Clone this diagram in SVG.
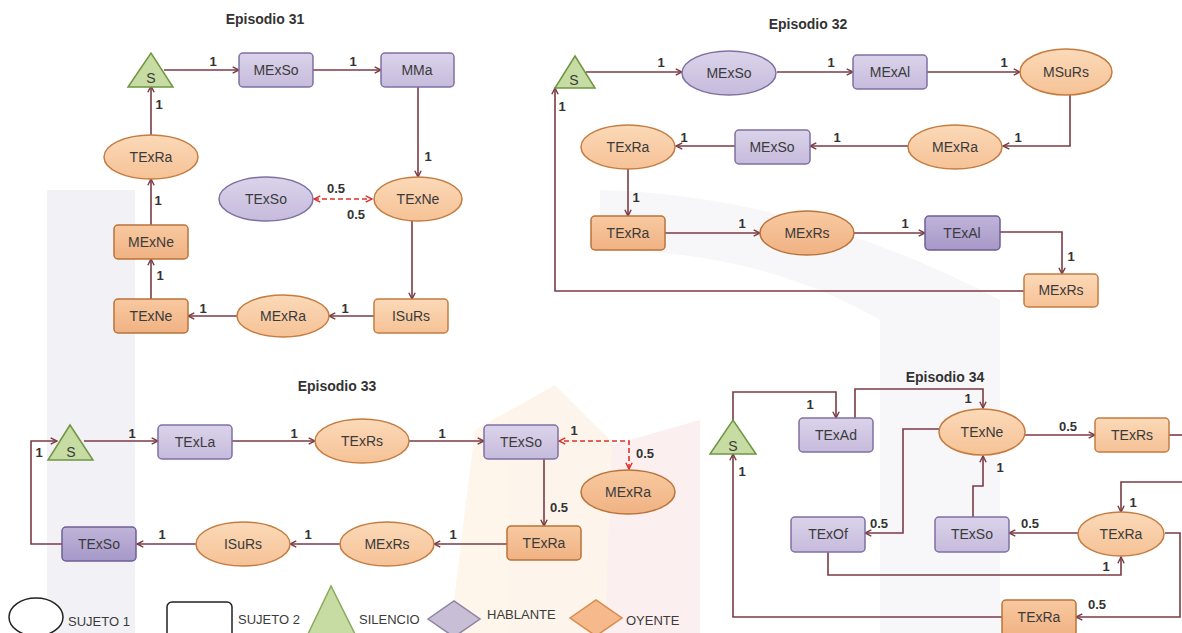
<svg xmlns="http://www.w3.org/2000/svg" width="1182" height="633" viewBox="0 0 1182 633">
<style>
.t{font-family:"Liberation Sans",Arial,sans-serif;font-size:14px;fill:#3b3b3b;text-anchor:middle;dominant-baseline:central}
.l{font-family:"Liberation Sans",Arial,sans-serif;font-size:13px;font-weight:bold;fill:#333;text-anchor:middle;dominant-baseline:central}
.h{font-family:"Liberation Sans",Arial,sans-serif;font-size:14px;font-weight:bold;fill:#333;text-anchor:middle;dominant-baseline:central}
.g{font-family:"Liberation Sans",Arial,sans-serif;font-size:13px;fill:#3b3b3b;dominant-baseline:central}
.e{fill:none;stroke:#7a3b44;stroke-width:1.6;marker-end:url(#ah)}
.n{fill:none;stroke:#7a3b44;stroke-width:1.6}
.d{fill:none;stroke:#e0302a;stroke-width:1.6;stroke-dasharray:5 3;marker-end:url(#ar);marker-start:url(#ar)}
.po{fill:url(#go);stroke:#c47c40;stroke-width:1.5}
.pk{fill:url(#gk);stroke:#b9733a;stroke-width:1.5}
.pp{fill:url(#gp);stroke:#7f70a2;stroke-width:1.5}
.pq{fill:url(#gq);stroke:#6e5f95;stroke-width:1.5}
.ps{fill:#c6dca3;stroke:#6f9542;stroke-width:1.5}
</style>
<defs>
<linearGradient id="go" x1="0" y1="0" x2="0" y2="1"><stop offset="0" stop-color="#fbd9b8"/><stop offset="1" stop-color="#f6c296"/></linearGradient>
<linearGradient id="gk" x1="0" y1="0" x2="0" y2="1"><stop offset="0" stop-color="#f8c9a0"/><stop offset="1" stop-color="#f0b283"/></linearGradient>
<linearGradient id="gp" x1="0" y1="0" x2="0" y2="1"><stop offset="0" stop-color="#dbd3ea"/><stop offset="1" stop-color="#c6bbdc"/></linearGradient>
<linearGradient id="gq" x1="0" y1="0" x2="0" y2="1"><stop offset="0" stop-color="#c0b4d9"/><stop offset="1" stop-color="#a698c8"/></linearGradient>
<marker id="ah" viewBox="0 0 10 10" refX="9" refY="5" markerWidth="9" markerHeight="9" orient="auto-start-reverse" markerUnits="userSpaceOnUse"><path d="M2,1.5 L9,5 L2,8.5" fill="none" stroke="#7a3b44" stroke-width="1.6"/></marker>
<marker id="ar" viewBox="0 0 10 10" refX="9" refY="5" markerWidth="9" markerHeight="9" orient="auto-start-reverse" markerUnits="userSpaceOnUse"><path d="M2,1.5 L9,5 L2,8.5" fill="none" stroke="#e0302a" stroke-width="1.6"/></marker>
</defs>
<rect width="1182" height="633" fill="#ffffff"/>
<g id="watermark" opacity="0.5">
<rect x="47" y="190" width="88" height="443" fill="#e6e6ee"/>
<path d="M450,633 L475,430 L555,385 L640,470 L650,633 Z" fill="#fdebd8"/>
<path d="M605,633 L612,445 L700,420 L700,633 Z" fill="#fae0e0"/>
<path d="M600,190 Q800,195 1000,300 L1000,633 L880,633 L880,320 Q760,250 600,250 Z" fill="#f0f0f4"/>
</g>
<g id="titles">
<text class="h" x="265" y="19">Episodio 31</text>
<text class="h" x="808" y="24">Episodio 32</text>
<text class="h" x="337" y="386">Episodio 33</text>
<text class="h" x="945" y="377">Episodio 34</text>
</g>
<g id="connectors">
<path class="e" d="M164,70 H239"/><text class="l" x="213" y="61">1</text>
<path class="e" d="M313,70 H381"/><text class="l" x="353" y="61">1</text>
<path class="e" d="M418,87 V177"/><text class="l" x="428" y="156">1</text>
<path class="d" d="M314,199 H372"/><text class="l" x="336" y="188">0.5</text><text class="l" x="356" y="214">0.5</text>
<path class="e" d="M412,221 V299"/>
<path class="e" d="M374,316 H329"/><text class="l" x="345" y="308">1</text>
<path class="e" d="M237,316 H188"/><text class="l" x="203" y="308">1</text>
<path class="e" d="M151,299 V259"/><text class="l" x="160" y="275">1</text>
<path class="e" d="M151,225 V179"/><text class="l" x="158" y="200">1</text>
<path class="e" d="M151,135 V86"/><text class="l" x="159" y="104">1</text>
<path class="e" d="M586,72 H682"/><text class="l" x="661" y="62">1</text>
<path class="e" d="M777,72 H853"/><text class="l" x="831" y="62">1</text>
<path class="e" d="M927,72 H1020"/><text class="l" x="1004" y="62">1</text>
<path class="e" d="M1070,95 V146 H1003"/><text class="l" x="1018" y="137">1</text>
<path class="e" d="M908,146 H810"/><text class="l" x="837" y="137">1</text>
<path class="e" d="M735,146 H676"/><text class="l" x="684" y="137">1</text>
<path class="e" d="M628,168 V216"/><text class="l" x="636" y="197">1</text>
<path class="e" d="M665,233 H760"/><text class="l" x="742" y="223">1</text>
<path class="e" d="M854,233 H925"/><text class="l" x="905" y="223">1</text>
<path class="e" d="M1000,232 H1062 V274"/><text class="l" x="1071" y="256">1</text>
<path class="e" d="M1024,291 H555 V88"/><text class="l" x="562" y="106">1</text>
<path class="e" d="M84,441 H158"/><text class="l" x="132" y="433">1</text>
<path class="e" d="M232,441 H315"/><text class="l" x="294" y="433">1</text>
<path class="e" d="M409,441 H484"/><text class="l" x="442" y="433">1</text>
<path class="d" d="M629,469 V441 H559"/><text class="l" x="574" y="430">1</text><text class="l" x="645" y="453">0.5</text>
<path class="e" d="M544,459 V526"/><text class="l" x="559" y="507">0.5</text>
<path class="e" d="M507,544 H434"/><text class="l" x="453" y="534">1</text>
<path class="e" d="M340,544 H290"/><text class="l" x="308" y="534">1</text>
<path class="e" d="M196,544 H137"/><text class="l" x="162" y="534">1</text>
<path class="e" d="M62,544 H31 V441 H57"/><text class="l" x="39" y="452">1</text>
<path class="e" d="M733,420 V392 H836 V418"/><text class="l" x="810" y="404">1</text>
<path class="e" d="M855,418 V389 H983 V408"/><text class="l" x="968" y="398">1</text>
<path class="e" d="M1025,435 H1095"/><text class="l" x="1068" y="426">0.5</text>
<path class="n" d="M1169,435 H1182"/>
<path class="e" d="M1183,482 H1121 V512"/><text class="l" x="1133" y="502">1</text>
<path class="e" d="M940,429 H903 V533 H865"/><text class="l" x="879" y="523">0.5</text>
<path class="e" d="M973,517 V486 H983 V456"/><text class="l" x="1000" y="467">1</text>
<path class="e" d="M1078,533 H1009"/><text class="l" x="1030" y="523">0.5</text>
<path class="e" d="M828,552 V575 H1121 V557"/><text class="l" x="1106" y="566">1</text>
<path class="e" d="M1165,533 H1180 V617 H1076"/><text class="l" x="1097" y="604">0.5</text>
<path class="e" d="M1002,617 H733 V454"/><text class="l" x="742" y="471">1</text>
</g>
<g id="e31-s"><polygon class="ps" points="128,87 173,87 151,53"/><text class="t" x="151" y="78">S</text></g>
<g id="e31-mexso"><rect class="pp" x="239" y="53" width="74" height="34" rx="4"/><text class="t" x="276" y="70">MExSo</text></g>
<g id="e31-mma"><rect class="pp" x="381" y="53" width="73" height="34" rx="4"/><text class="t" x="417" y="70">MMa</text></g>
<g id="e31-texne"><ellipse class="po" cx="418" cy="199" rx="44" ry="22"/><text class="t" x="418" y="199">TExNe</text></g>
<g id="e31-texso"><ellipse class="pp" cx="266" cy="199" rx="47" ry="22"/><text class="t" x="266" y="199">TExSo</text></g>
<g id="e31-texra"><ellipse class="po" cx="151" cy="157" rx="47" ry="22"/><text class="t" x="151" y="157">TExRa</text></g>
<g id="e31-mexne"><rect class="pk" x="114" y="225" width="74" height="34" rx="4"/><text class="t" x="151" y="242">MExNe</text></g>
<g id="e31-texne2"><rect class="pk" x="114" y="299" width="74" height="34" rx="4"/><text class="t" x="151" y="316">TExNe</text></g>
<g id="e31-mexra"><ellipse class="po" cx="283" cy="316" rx="46" ry="21"/><text class="t" x="283" y="316">MExRa</text></g>
<g id="e31-isurs"><rect class="po" x="374" y="299" width="74" height="34" rx="4"/><text class="t" x="411" y="316">ISuRs</text></g>
<g id="e32-s"><polygon class="ps" points="555,88 595,88 575,56"/><text class="t" x="574" y="80">S</text></g>
<g id="e32-mexso"><ellipse class="pp" cx="729" cy="73" rx="47" ry="22"/><text class="t" x="729" y="73">MExSo</text></g>
<g id="e32-mexal"><rect class="pp" x="853" y="55" width="74" height="34" rx="4"/><text class="t" x="890" y="72">MExAl</text></g>
<g id="e32-msurs"><ellipse class="po" cx="1066" cy="72" rx="46" ry="23"/><text class="t" x="1066" y="72">MSuRs</text></g>
<g id="e32-mexra"><ellipse class="po" cx="955" cy="147" rx="47" ry="22"/><text class="t" x="955" y="147">MExRa</text></g>
<g id="e32-mexso2"><rect class="pp" x="735" y="130" width="75" height="34" rx="4"/><text class="t" x="772" y="147">MExSo</text></g>
<g id="e32-texra"><ellipse class="po" cx="628" cy="147" rx="47" ry="22"/><text class="t" x="628" y="147">TExRa</text></g>
<g id="e32-texra2"><rect class="pk" x="591" y="216" width="74" height="34" rx="4"/><text class="t" x="628" y="233">TExRa</text></g>
<g id="e32-mexrs"><ellipse class="pk" cx="807" cy="233" rx="47" ry="22"/><text class="t" x="807" y="233">MExRs</text></g>
<g id="e32-texal"><rect class="pq" x="925" y="216" width="75" height="34" rx="4"/><text class="t" x="962" y="233">TExAl</text></g>
<g id="e32-mexrs2"><rect class="po" x="1024" y="274" width="74" height="33" rx="4"/><text class="t" x="1061" y="290">MExRs</text></g>
<g id="e33-s"><polygon class="ps" points="48,460 93,460 70,425"/><text class="t" x="71" y="452">S</text></g>
<g id="e33-texla"><rect class="pp" x="158" y="425" width="74" height="34" rx="4"/><text class="t" x="195" y="442">TExLa</text></g>
<g id="e33-texrs"><ellipse class="po" cx="362" cy="441" rx="47" ry="22"/><text class="t" x="362" y="441">TExRs</text></g>
<g id="e33-texso"><rect class="pp" x="484" y="425" width="74" height="34" rx="4"/><text class="t" x="521" y="442">TExSo</text></g>
<g id="e33-mexra"><ellipse class="pk" cx="628" cy="492" rx="47" ry="22"/><text class="t" x="628" y="492">MExRa</text></g>
<g id="e33-texra"><rect class="pk" x="507" y="526" width="74" height="34" rx="4"/><text class="t" x="544" y="543">TExRa</text></g>
<g id="e33-mexrs"><ellipse class="po" cx="387" cy="544" rx="47" ry="22"/><text class="t" x="387" y="544">MExRs</text></g>
<g id="e33-isurs"><ellipse class="po" cx="243" cy="544" rx="47" ry="22"/><text class="t" x="243" y="544">ISuRs</text></g>
<g id="e33-texso2"><rect class="pq" x="62" y="527" width="74" height="34" rx="4"/><text class="t" x="99" y="544">TExSo</text></g>
<g id="e34-s"><polygon class="ps" points="710,454 756,454 733,420"/><text class="t" x="733" y="446">S</text></g>
<g id="e34-texad"><rect class="pp" x="799" y="418" width="74" height="34" rx="4"/><text class="t" x="836" y="435">TExAd</text></g>
<g id="e34-texne"><ellipse class="po" cx="982" cy="432" rx="43" ry="23"/><text class="t" x="982" y="432">TExNe</text></g>
<g id="e34-texrs"><rect class="po" x="1095" y="418" width="74" height="34" rx="4"/><text class="t" x="1132" y="435">TExRs</text></g>
<g id="e34-texof"><rect class="pp" x="791" y="517" width="74" height="35" rx="4"/><text class="t" x="828" y="534">TExOf</text></g>
<g id="e34-texso"><rect class="pp" x="935" y="517" width="74" height="35" rx="4"/><text class="t" x="972" y="534">TExSo</text></g>
<g id="e34-texra"><ellipse class="po" cx="1121" cy="534" rx="43" ry="22"/><text class="t" x="1121" y="534">TExRa</text></g>
<g id="e34-texra2"><rect class="pk" x="1002" y="600" width="74" height="36" rx="4"/><text class="t" x="1039" y="617">TExRa</text></g>
<g id="legend">
<ellipse cx="36" cy="617" rx="27" ry="19" fill="#fff" stroke="#222" stroke-width="1.5"/>
<text class="g" x="68" y="621">SUJETO 1</text>
<rect x="167" y="602" width="65" height="36" rx="5" fill="#fff" stroke="#222" stroke-width="1.5"/>
<text class="g" x="238" y="619">SUJETO 2</text>
<polygon points="308,634 355,634 331,586" fill="#c6dca3" stroke="#8aac5e" stroke-width="1.5"/>
<text class="g" x="359" y="619">SILENCIO</text>
<polygon points="428,619 454,601 480,619 454,637" fill="#c8bfd6" stroke="#8d83a2" stroke-width="1.5"/>
<text class="g" x="487" y="614">HABLANTE</text>
<polygon points="570,618 596,600 622,618 596,636" fill="#f6b98c" stroke="#d98a4c" stroke-width="1.5"/>
<text class="g" x="626" y="620">OYENTE</text>
</g>
</svg>
